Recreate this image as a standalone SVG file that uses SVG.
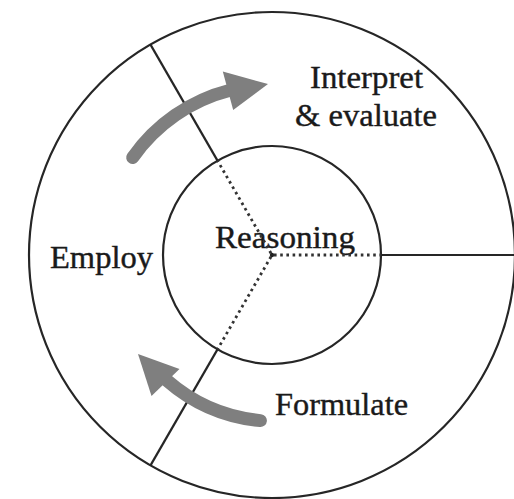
<svg xmlns="http://www.w3.org/2000/svg" width="514" height="499" viewBox="0 0 514 499">
<style>
.ring{fill:none;stroke:#262626;stroke-width:2.2}
.spoke{stroke:#262626;stroke-width:2.2}
.dot{stroke:#333;stroke-width:2.8;stroke-dasharray:2.6 3.6}
.shaft{fill:none;stroke:#7f7f7f;stroke-width:13;stroke-linecap:round}
.head{fill:#7f7f7f}
.lbl{font-family:'Liberation Serif','Times New Roman',serif;font-size:32px;fill:#1a1a1a;stroke:#1a1a1a;stroke-width:0.4}
</style>
<rect width="514" height="499" fill="#ffffff"/>
<g id="outer-ring"><circle class="ring" cx="272" cy="255" r="243"/></g>
<g id="reasoning">
<circle class="ring" cx="272" cy="255" r="109"/>
<text class="lbl" x="215" y="248" textLength="140" lengthAdjust="spacingAndGlyphs">Reasoning</text>
</g>
<g id="interpret">
<text class="lbl" x="310" y="88" textLength="113" lengthAdjust="spacingAndGlyphs">Interpret</text>
<text class="lbl" x="295" y="126" textLength="142" lengthAdjust="spacingAndGlyphs">&amp; evaluate</text>
</g>
<g id="employ"><text class="lbl" x="50" y="268" textLength="103" lengthAdjust="spacingAndGlyphs">Employ</text></g>
<g id="formulate"><text class="lbl" x="275" y="415" textLength="133" lengthAdjust="spacingAndGlyphs">Formulate</text></g>
<g id="connectors">
<line class="spoke" x1="381" y1="255" x2="514" y2="255"/>
<line class="spoke" x1="217.5" y1="160.6" x2="150.5" y2="44.6"/>
<line class="spoke" x1="217.5" y1="349.4" x2="150.5" y2="465.4"/>
<line class="dot" x1="274" y1="255" x2="381" y2="255"/>
<line class="dot" x1="271" y1="253.3" x2="217.5" y2="160.6"/>
<line class="dot" x1="271" y1="256.7" x2="217.5" y2="349.4"/>
<circle cx="272" cy="255" r="2.2" fill="#222"/>
<path class="shaft" d="M 132.7 157.5 A 170 170 0 0 1 230 90.3"/>
<polygon class="head" points="222.8,71.5 268,84 233.2,110.1"/>
<path class="shaft" d="M 260.4 420.6 A 166 166 0 0 1 167 380.5"/>
<polygon class="head" points="151.5,396 138,354 179.5,369"/>
</g>
</svg>
